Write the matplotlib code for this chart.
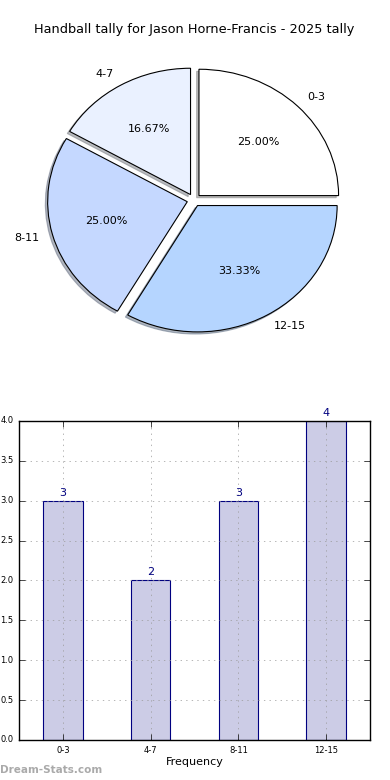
import matplotlib
matplotlib.use("Agg")
import matplotlib.pyplot as plt

plt.style.use("classic")

groups = ["0-3", "4-7", "8-11", "12-15"]
counts = [3, 2, 3, 4]
pie_colors = ["#ffffff", "#eaf1ff", "#c5d8ff", "#b5d5ff"]

fig = plt.figure(figsize=(3.9, 7.8), dpi=100, facecolor="white")

# pie on top (old style, not forced round)
ax1 = fig.add_axes([0.05, 0.541, 0.895, 0.405])
ax1.pie(counts, labels=groups, colors=pie_colors, explode=[0.05] * 4,
        autopct="%1.2f%%", startangle=0,
        shadow={"ox": -0.012, "oy": -0.012, "shade": 0.5},
        wedgeprops={"linewidth": 0.8, "edgecolor": "black"},
        textprops={"fontsize": 8})
ax1.set_aspect("auto")
ax1.set_xlim(-1.25, 1.25)
ax1.set_ylim(-1.25, 1.25)
fig.text(0.497, 1 - 30 / 780, "Handball tally for Jason Horne-Francis - 2025 tally",
         ha="center", va="center", fontsize=9.3)

# bar chart below
ax2 = fig.add_axes([0.0487, 0.0513, 0.9, 0.409])
x = range(len(groups))
ax2.bar(x, counts, width=0.45, align="center", color="#ccccе6".replace("е", "e"),
        edgecolor="navy", linewidth=0.8)
for i, v in enumerate(counts):
    ax2.text(i, v + 0.04, str(v), ha="center", va="bottom", color="navy", fontsize=8)
ax2.set_xlim(-0.5, 3.5)
ax2.set_ylim(0, 4)
ax2.set_xticks(list(x))
ax2.set_xticklabels(groups)
ax2.set_yticks([0, 0.5, 1, 1.5, 2, 2.5, 3, 3.5, 4])
ax2.tick_params(labelsize=6)
ax2.grid(True, linestyle=":", color="#999999")
for sp in ax2.spines.values():
    sp.set_zorder(5)
ax2.set_xlabel("Frequency", fontsize=8, labelpad=2)

fig.text(0.0, 1 - 770 / 780, "Dream-Stats.com", color="#aaaaaa", fontsize=7.5,
         ha="left", va="center", fontweight="bold")

fig.savefig("out.png", dpi=100, facecolor="white")
